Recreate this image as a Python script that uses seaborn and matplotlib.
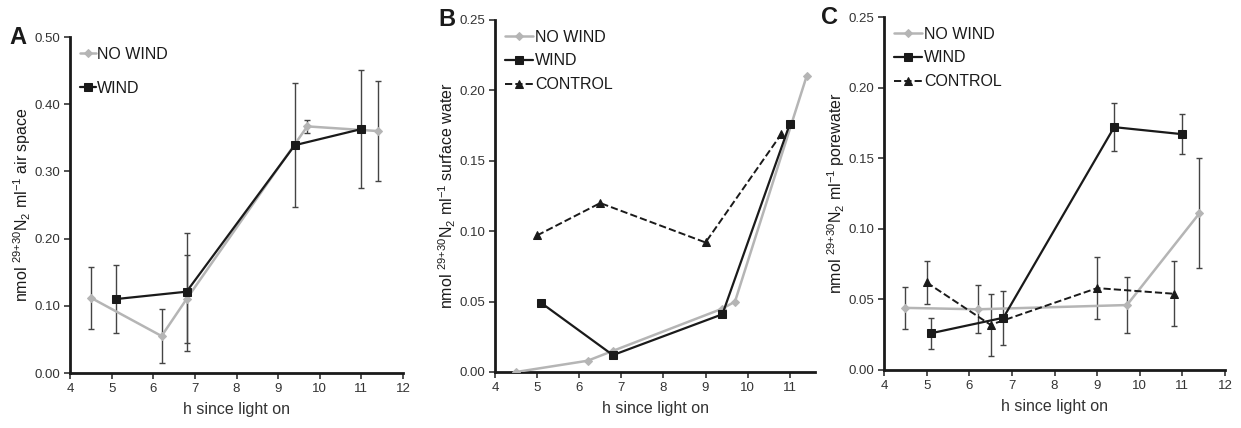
import numpy as np
import pandas as pd
import matplotlib
matplotlib.use("Agg")
import matplotlib.pyplot as plt
import seaborn as sns

# ---------------- data ----------------
# Panel A: air space
a_nowind_x = [4.5, 6.2, 6.8, 9.7, 11.4]
a_nowind_y = [0.112, 0.055, 0.110, 0.367, 0.360]
a_nowind_err = [0.046, 0.040, 0.065, 0.010, 0.074]
a_wind_x = [5.1, 6.8, 9.4, 11.0]
a_wind_y = [0.110, 0.121, 0.339, 0.363]
a_wind_err = [0.051, 0.088, 0.092, 0.088]

# Panel B: surface water (no error bars)
b_nowind_x = [4.5, 6.2, 6.8, 9.4, 9.7, 11.4]
b_nowind_y = [0.000, 0.008, 0.015, 0.045, 0.050, 0.210]
b_wind_x = [5.1, 6.8, 9.4, 11.0]
b_wind_y = [0.049, 0.012, 0.041, 0.176]
b_ctrl_x = [5.0, 6.5, 9.0, 10.8]
b_ctrl_y = [0.097, 0.120, 0.092, 0.169]

# Panel C: porewater
c_nowind_x = [4.5, 6.2, 9.7, 11.4]
c_nowind_y = [0.044, 0.043, 0.046, 0.111]
c_nowind_err = [0.015, 0.017, 0.020, 0.039]
c_wind_x = [5.1, 6.8, 9.4, 11.0]
c_wind_y = [0.026, 0.037, 0.172, 0.167]
c_wind_err = [0.011, 0.019, 0.017, 0.014]
c_ctrl_x = [5.0, 6.5, 9.0, 10.8]
c_ctrl_y = [0.062, 0.032, 0.058, 0.054]
c_ctrl_err = [0.015, 0.022, 0.022, 0.023]

series_names = ["NO WIND", "WIND", "CONTROL"]
xlabel = "h since light on"
ylabels = [r"nmol $^{29{+}30}$N$_2$ ml$^{-1}$ air space",
           r"nmol $^{29{+}30}$N$_2$ ml$^{-1}$ surface water",
           r"nmol $^{29{+}30}$N$_2$ ml$^{-1}$ porewater"]
panel_letters = ["A", "B", "C"]

# ---------------- style ----------------
sns.set_style("ticks")
plt.rcParams['font.family'] = ['Liberation Sans', 'DejaVu Sans']
plt.rcParams['mathtext.fontset'] = 'custom'
plt.rcParams['mathtext.rm'] = 'Liberation Sans'
plt.rcParams['mathtext.it'] = 'Liberation Sans'

GRAY = "#b5b5b5"
BLACK = "#1a1a1a"
TICKC = "#333333"

fig = plt.figure(figsize=(12.41, 4.28), dpi=100)
W, H = 1241, 428

def add_axes(l, r, t, b):
    return fig.add_axes([l / W, 1 - b / H, (r - l) / W, (b - t) / H])

axA = add_axes(70, 403, 37, 373)
axB = add_axes(495, 815, 20, 372)
axC = add_axes(884, 1225, 17, 370)

styles = {
    "NO WIND": dict(color=GRAY, marker="D", markersize=4, linestyle="-", lw=1.8),
    "WIND": dict(color=BLACK, marker="s", markersize=6, linestyle="-", lw=1.6),
    "CONTROL": dict(color=BLACK, marker="^", markersize=6, linestyle="--", lw=1.4),
}

def draw(ax, name, x, y, err=None):
    st = styles[name]
    df = pd.DataFrame({"x": x, "y": y})
    sns.lineplot(data=df, x="x", y="y", ax=ax, color=st["color"], marker=st["marker"],
                 markersize=st["markersize"], linestyle=st["linestyle"], linewidth=st["lw"],
                 markeredgecolor=st["color"], sort=False, label=name, zorder=3)
    if err is not None:
        ax.errorbar(x, y, yerr=err, fmt="none", ecolor="#444444", elinewidth=1.0,
                    capsize=2.5, capthick=1.0, zorder=2)

draw(axA, "NO WIND", a_nowind_x, a_nowind_y, a_nowind_err)
draw(axA, "WIND", a_wind_x, a_wind_y, a_wind_err)

draw(axB, "NO WIND", b_nowind_x, b_nowind_y)
draw(axB, "WIND", b_wind_x, b_wind_y)
draw(axB, "CONTROL", b_ctrl_x, b_ctrl_y)

draw(axC, "NO WIND", c_nowind_x, c_nowind_y, c_nowind_err)
draw(axC, "WIND", c_wind_x, c_wind_y, c_wind_err)
draw(axC, "CONTROL", c_ctrl_x, c_ctrl_y, c_ctrl_err)

axA.set_xlim(4, 12); axA.set_ylim(0, 0.5)
axA.set_yticks(np.arange(0, 0.51, 0.1))
axA.set_yticklabels([f"{v:.2f}" for v in np.arange(0, 0.51, 0.1)])
axA.set_xticks(range(4, 13))

axB.set_xlim(4, 11.6); axB.set_ylim(0, 0.25)
axB.set_yticks(np.arange(0, 0.26, 0.05))
axB.set_yticklabels([f"{v:.2f}" for v in np.arange(0, 0.26, 0.05)])
axB.set_xticks(range(4, 12))

axC.set_xlim(4, 12); axC.set_ylim(0, 0.25)
axC.set_yticks(np.arange(0, 0.26, 0.05))
axC.set_yticklabels([f"{v:.2f}" for v in np.arange(0, 0.26, 0.05)])
axC.set_xticks(range(4, 13))

letter_pos = {"A": (-0.155, 1.0), "B": (-0.15, 1.0), "C": (-0.16, 1.0)}
for ax, yl, letter in zip([axA, axB, axC], ylabels, panel_letters):
    sns.despine(ax=ax)
    for s in ["left", "bottom"]:
        ax.spines[s].set_linewidth(2.0)
        ax.spines[s].set_color(BLACK)
    ax.tick_params(axis="both", labelsize=9.5, colors=TICKC, length=4, width=1.2,
                   direction="out", pad=3)
    ax.set_xlabel(xlabel, fontsize=11.5, color=TICKC, labelpad=5)
    ax.set_ylabel(yl, fontsize=11.5, color=BLACK, labelpad=1)
    ax.text(*letter_pos[letter], letter, transform=ax.transAxes,
            fontsize=17, fontweight="bold", ha="center", va="center", color=BLACK)

legA = axA.legend(loc="upper left", bbox_to_anchor=(0.0, 1.0), frameon=False, fontsize=11.5,
                  handlelength=1.0, handletextpad=0.1, labelspacing=1.2, borderaxespad=0.2)
legB = axB.legend(loc="upper left", bbox_to_anchor=(0.0, 1.0), frameon=False, fontsize=11.5,
                  handlelength=1.8, handletextpad=0.1, labelspacing=0.55, borderaxespad=0.2)
legC = axC.legend(loc="upper left", bbox_to_anchor=(0.0, 1.0), frameon=False, fontsize=11.5,
                  handlelength=1.8, handletextpad=0.1, labelspacing=0.55, borderaxespad=0.2)
for leg in [legA, legB, legC]:
    for t in leg.get_texts():
        t.set_color(BLACK)

fig.savefig("out.png", dpi=100, facecolor="white")
